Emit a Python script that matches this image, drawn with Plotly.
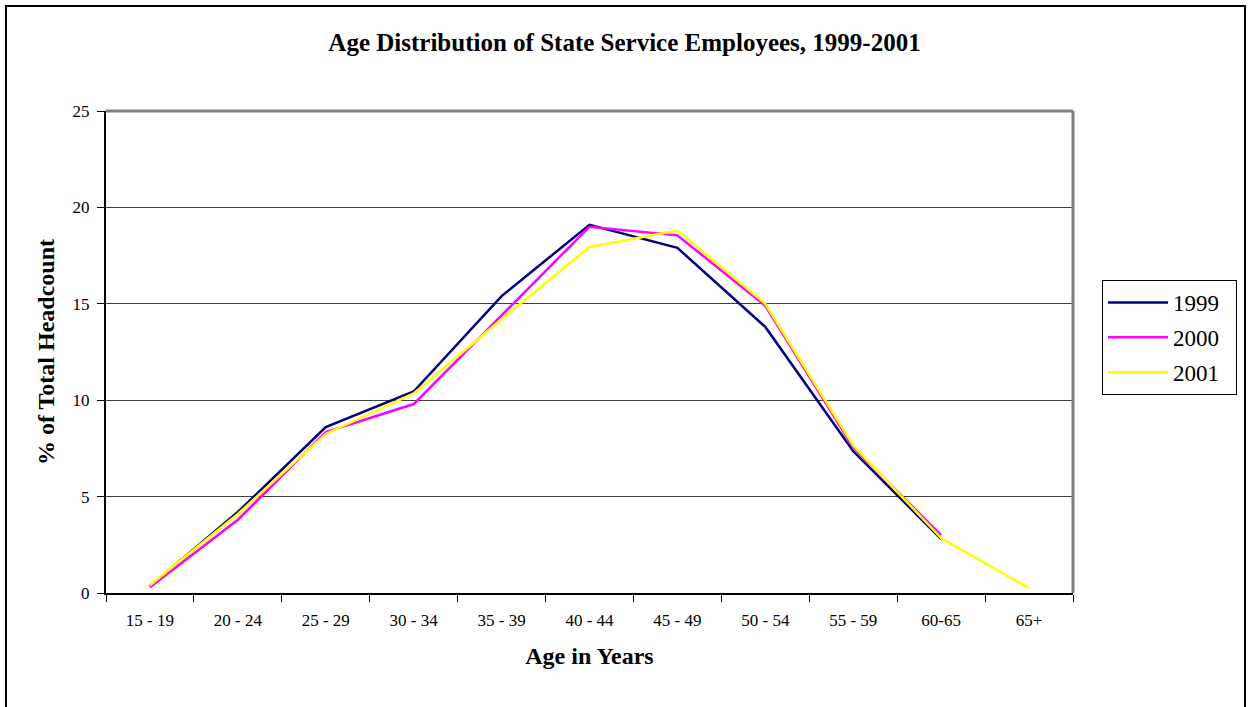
import plotly.graph_objects as go

categories = ["15 - 19", "20 - 24", "25 - 29", "30 - 34", "35 - 39", "40 - 44",
              "45 - 49", "50 - 54", "55 - 59", "60-65", "65+"]
y1999 = [0.35, 4.2, 8.6, 10.45, 15.4, 19.1, 17.9, 13.8, 7.35, 2.8, None]
y2000 = [0.3, 3.8, 8.35, 9.8, 14.4, 19.0, 18.55, 14.9, 7.55, 3.0, None]
y2001 = [0.4, 4.1, 8.25, 10.35, 14.2, 17.95, 18.8, 15.0, 7.65, 2.85, 0.25]
series_names = ["1999", "2000", "2001"]
series_colors = ["#000080", "#FF00FF", "#FFFF00"]

FONT = "Liberation Serif, Times New Roman, serif"
PAD = "\u00a0\u00a0"  # right padding inside legend box

fig = go.Figure()
for name, vals, col in zip(series_names, [y1999, y2000, y2001], series_colors):
    fig.add_trace(go.Scatter(x=categories, y=vals, name=name + PAD, mode="lines", legendgroup=name,
                             line=dict(color=col, width=2.5), connectgaps=False))

W, H = 1249, 707
L, R, T, B = 106, 1073, 111, 593
pw, ph = R - L, B - T

def px(x):
    return (x - L) / pw

def py(y):
    return (B - y) / ph

shapes = [
    # outer chart border
    dict(type="rect", xref="paper", yref="paper", x0=px(6), x1=px(1245), y0=py(730), y1=py(6),
         line=dict(color="black", width=2), fillcolor="rgba(0,0,0,0)", layer="below"),
    # plot area top and right border (gray)
    dict(type="line", xref="paper", yref="paper", x0=0, x1=1, y0=1, y1=1,
         line=dict(color="#808080", width=3)),
    dict(type="line", xref="paper", yref="paper", x0=1, x1=1, y0=0, y1=1,
         line=dict(color="#808080", width=3)),
]

fig.update_layout(
    width=W, height=H,
    margin=dict(l=L, r=W - R, t=T, b=H - B),
    paper_bgcolor="white", plot_bgcolor="white",
    font=dict(family=FONT, color="black", size=17),
    title=dict(text="<b>Age Distribution of State Service Employees, 1999-2001</b>",
               x=0.5, xanchor="center", y=1 - 42 / H, yanchor="middle",
               font=dict(family=FONT, size=25, color="black")),
    showlegend=True,
    legend=dict(x=px(1102), y=py(280), xanchor="left", yanchor="top",
                bordercolor="black", borderwidth=1, bgcolor="white",
                font=dict(family=FONT, size=23, color="black"),
                tracegroupgap=2, itemwidth=60),
    shapes=shapes,
)
fig.update_xaxes(
    type="category", range=[-0.5, 10.5],
    showline=True, linecolor="black", linewidth=2,
    ticks="outside", tickson="boundaries", ticklen=7, tickcolor="black", tickwidth=1,
    showgrid=False, zeroline=False, ticklabelstandoff=11,
    tickfont=dict(family=FONT, size=17, color="black"),
    title=dict(text="<b>Age in Years</b>", font=dict(family=FONT, size=24, color="black"), standoff=18),
)
fig.update_yaxes(
    range=[0, 25], tickvals=[0, 5, 10, 15, 20, 25],
    showline=True, linecolor="black", linewidth=2,
    ticks="outside", ticklen=7, tickcolor="black", tickwidth=1,
    showgrid=True, gridcolor="#404040", gridwidth=1, zeroline=False, ticklabelstandoff=4,
    tickfont=dict(family=FONT, size=17, color="black"),
    title=dict(text="<b>% of Total Headcount</b>", font=dict(family=FONT, size=24, color="black"), standoff=11),
)

fig.write_html("out.html")
